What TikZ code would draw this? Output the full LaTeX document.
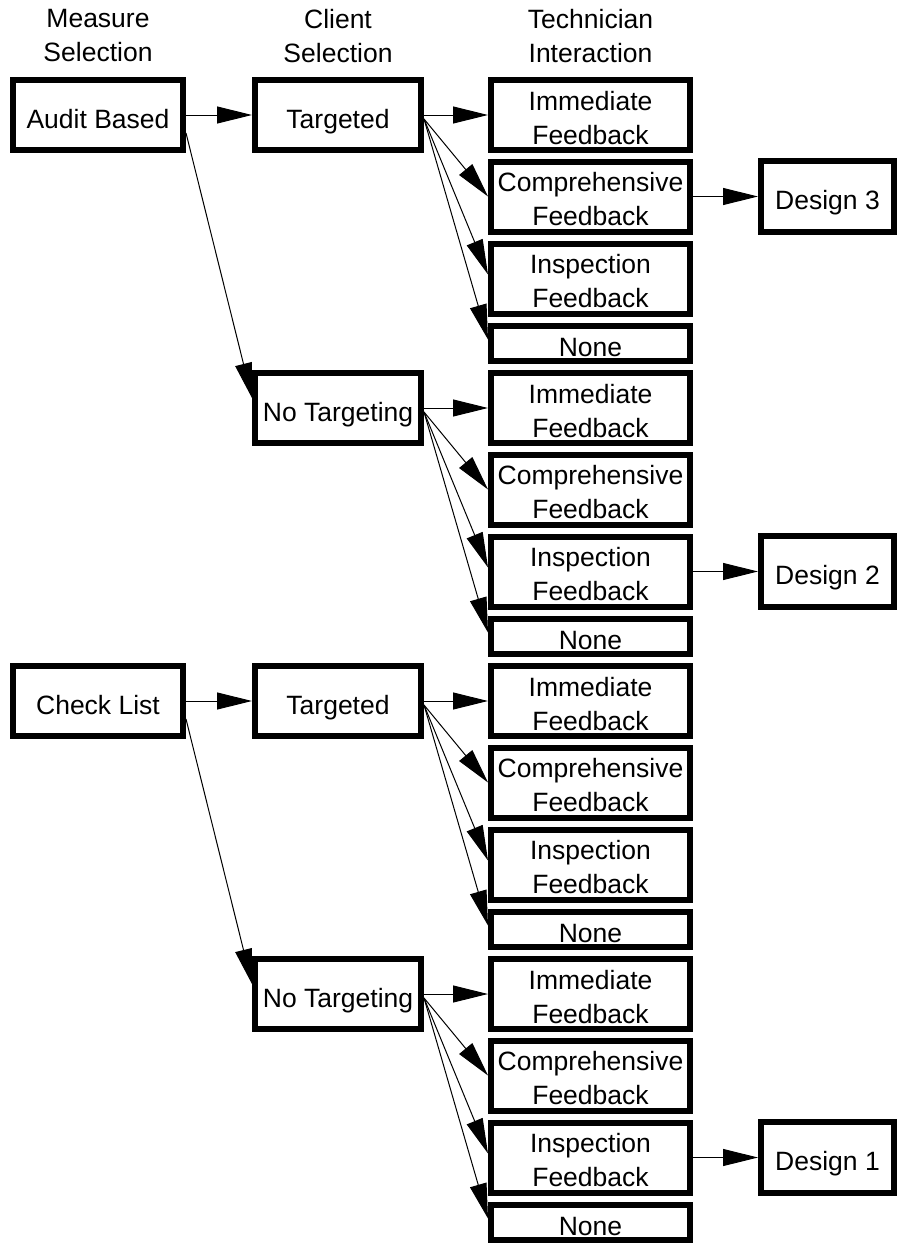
\documentclass[tikz,border=0pt]{standalone}
\usepackage{fontspec}
\setmainfont{Liberation Sans}
\usetikzlibrary{arrows.meta,calc}

\begin{document}
\begin{tikzpicture}[x=1pt,y=-1pt,
  every node/.style={font=\fontsize{26.5}{34}\selectfont},
  head/.style={align=center, inner sep=0pt, anchor=north},
  box/.style={draw, line width=6pt, inner sep=0pt, align=center,
              text depth=0pt, text height=26pt},
  twoline/.style={box, text height=58pt},
  measurebox/.style={box, minimum width=170pt, minimum height=70pt},
  clientbox/.style={box, minimum width=166pt, minimum height=70pt},
  techbox/.style={twoline, minimum width=199pt, minimum height=70pt},
  nonebox/.style={box, minimum width=199pt, minimum height=35pt},
  designbox/.style={box, minimum width=133pt, minimum height=71pt},
  arr/.style={line width=1pt, -{Triangle[length=35pt,width=17pt]}}
]
\useasboundingbox (0,0) rectangle (900,1247);

% column headings
\node[head] (h1) at (98,9)    {Measure\\Selection};
\node[head] (h2) at (338,9)   {Client\\Selection};
\node[head] (h3) at (590.5,9) {Technician\\Interaction};

% measure selection
\node[measurebox] (m0) at (98,115) {Audit Based};
\node[measurebox] (m2) at (98,701) {Check List};

% client selection and technician interaction, one block per client box
\foreach \k/\lab in {0/Targeted,1/No Targeting,2/Targeted,3/No Targeting}{
  \pgfmathsetmacro{\off}{293*\k}
  \node[clientbox] (c\k) at (338,115+\off) {\lab};
  \node[techbox]  (im\k) at (590.5,115+\off)   {Immediate\\Feedback};
  \node[techbox]  (co\k) at (590.5,196.5+\off) {Comprehensive\\Feedback};
  \node[techbox]  (in\k) at (590.5,278.5+\off) {Inspection\\Feedback};
  \node[nonebox]  (ne\k) at (590.5,343.5+\off) {None};
  \coordinate (s\k) at ($(c\k.east)+(0,4)$);
  \draw[arr] (c\k.east) -- (im\k.west);
  \draw[arr] (s\k) -- (co\k.west);
  \draw[arr] (s\k) -- ($(in\k.west)+(0,-4)$);
  \draw[arr] (s\k) -- ($(ne\k.west)+(0,-4)$);
}

% measure to client connectors
\draw[arr] (m0.east) -- (c0.west);
\draw[arr] ($(m0.east)+(0,18)$) -- ($(c1.west)+(0,-10)$);
\draw[arr] (m2.east) -- (c2.west);
\draw[arr] ($(m2.east)+(0,18)$) -- ($(c3.west)+(0,-10)$);

% designs
\node[designbox] (d3) at (827.5,196.5)  {Design 3};
\node[designbox] (d2) at (827.5,571.5)  {Design 2};
\node[designbox] (d1) at (827.5,1157.5) {Design 1};
\draw[arr] (co0.east) -- (d3.west);
\draw[arr] (in1.east) -- (d2.west);
\draw[arr] (in3.east) -- (d1.west);
\end{tikzpicture}
\end{document}
